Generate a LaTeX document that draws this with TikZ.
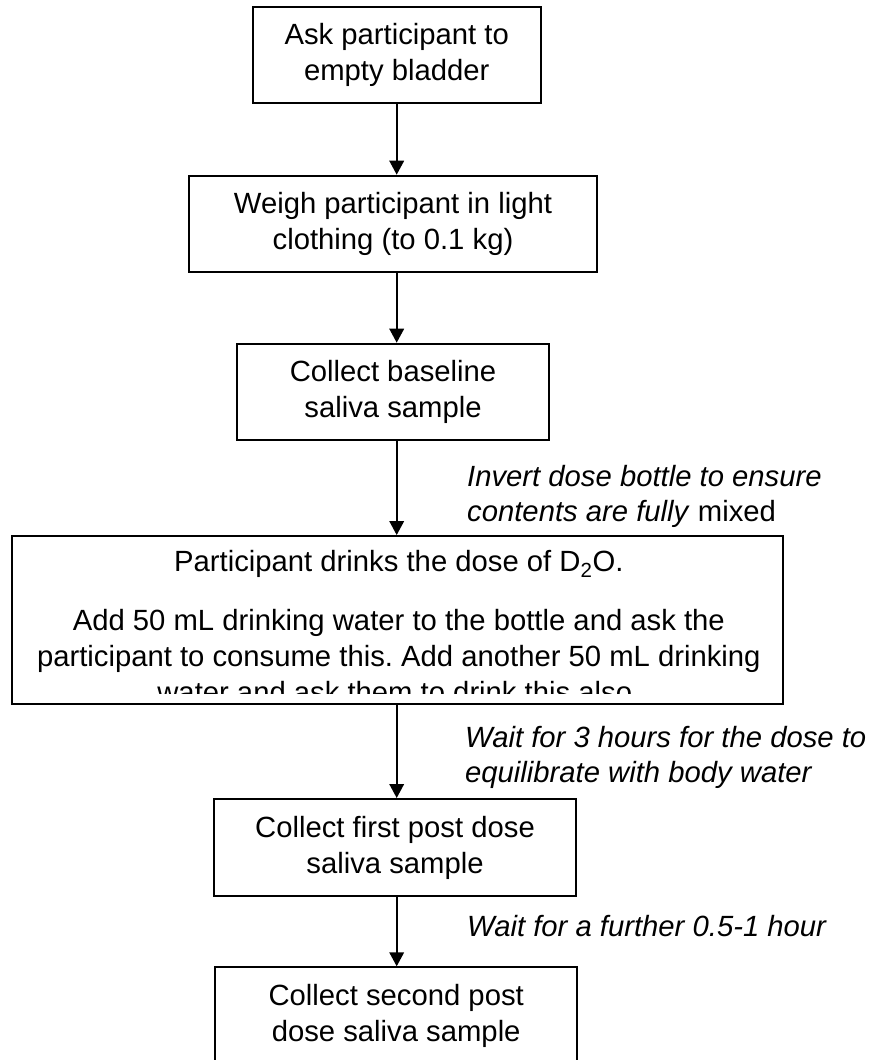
\documentclass[tikz,border=0pt]{standalone}
\usepackage{fontspec}
\setmainfont{Liberation Sans}
\usetikzlibrary{arrows.meta}
\frenchspacing
\newcommand{\boxfont}{\fontsize{29.25}{36}\selectfont}
\newcommand{\lblfont}{\fontsize{29.25}{35.4}\selectfont}
\tikzset{
  stepbox/.style={draw, line width=2pt, align=center, inner sep=0pt, font=\boxfont},
  plaintext/.style={inner sep=0pt, font=\boxfont},
  notetext/.style={inner sep=0pt, align=left, font=\lblfont},
  arr/.style={line width=2pt, -{Triangle[length=14pt,width=14.5pt]}}
}
\begin{document}
\begin{tikzpicture}[x=1pt, y=-1pt]
\useasboundingbox (0,0) rectangle (873,1060);
\clip (0,0) rectangle (873,1060);
\coordinate (ax) at (396.7,0);

\node[stepbox, minimum width=288pt, minimum height=95.7pt] (b1) at (396.7,55.2) {Ask participant to\\empty bladder};
\node[stepbox, minimum width=408pt, minimum height=96pt] (b2) at (393,223.7) {Weigh participant in light\\clothing (to 0.1 kg)};
\node[stepbox, minimum width=312pt, minimum height=96pt] (b3) at (393,391.7) {Collect baseline\\saliva sample};
\node[stepbox, minimum width=771pt, minimum height=167.5pt] (b4) at (397.7,619.8) {};
\node[stepbox, minimum width=362pt, minimum height=97pt] (b5) at (395,847.5) {Collect first post dose\\saliva sample};
\node[stepbox, minimum width=361.5pt, minimum height=97pt] (b6) at (396.2,1015.8) {Collect second post\\dose saliva sample};

\begin{scope}
\clip (12,536) rectangle (784,693.3);
\node[plaintext, anchor=base] (t4a) at (398.8,571.7) {Participant drinks the dose of D\textsubscript{2}O.};
\node[plaintext, anchor=base] (t4b) at (398.8,630) {Add 50 mL drinking water to the bottle and ask the};
\node[plaintext, anchor=base] (t4c) at (398.8,666) {participant to consume this. Add another 50 mL drinking};
\node[plaintext, anchor=base] (t4d) at (398.8,702) {water and ask them to drink this also.};
\end{scope}

\node[notetext, anchor=base west] (l1) at (467,521.4) {\textit{Invert dose bottle to ensure}\\\textit{contents are fully} mixed};
\node[notetext, anchor=base west] (l2) at (465,782.7) {\textit{Wait for 3 hours for the dose to}\\\textit{equilibrate with body water}};
\node[notetext, anchor=base west] (l3) at (467,936.7) {\textit{Wait for a further 0.5-1 hour}};

\draw[arr] (b1.south -| ax) -- (b2.north -| ax);
\draw[arr] (b2.south -| ax) -- (b3.north -| ax);
\draw[arr] (b3.south -| ax) -- (b4.north -| ax);
\draw[arr] (b4.south -| ax) -- (b5.north -| ax);
\draw[arr] (b5.south -| ax) -- (b6.north -| ax);
\end{tikzpicture}
\end{document}
